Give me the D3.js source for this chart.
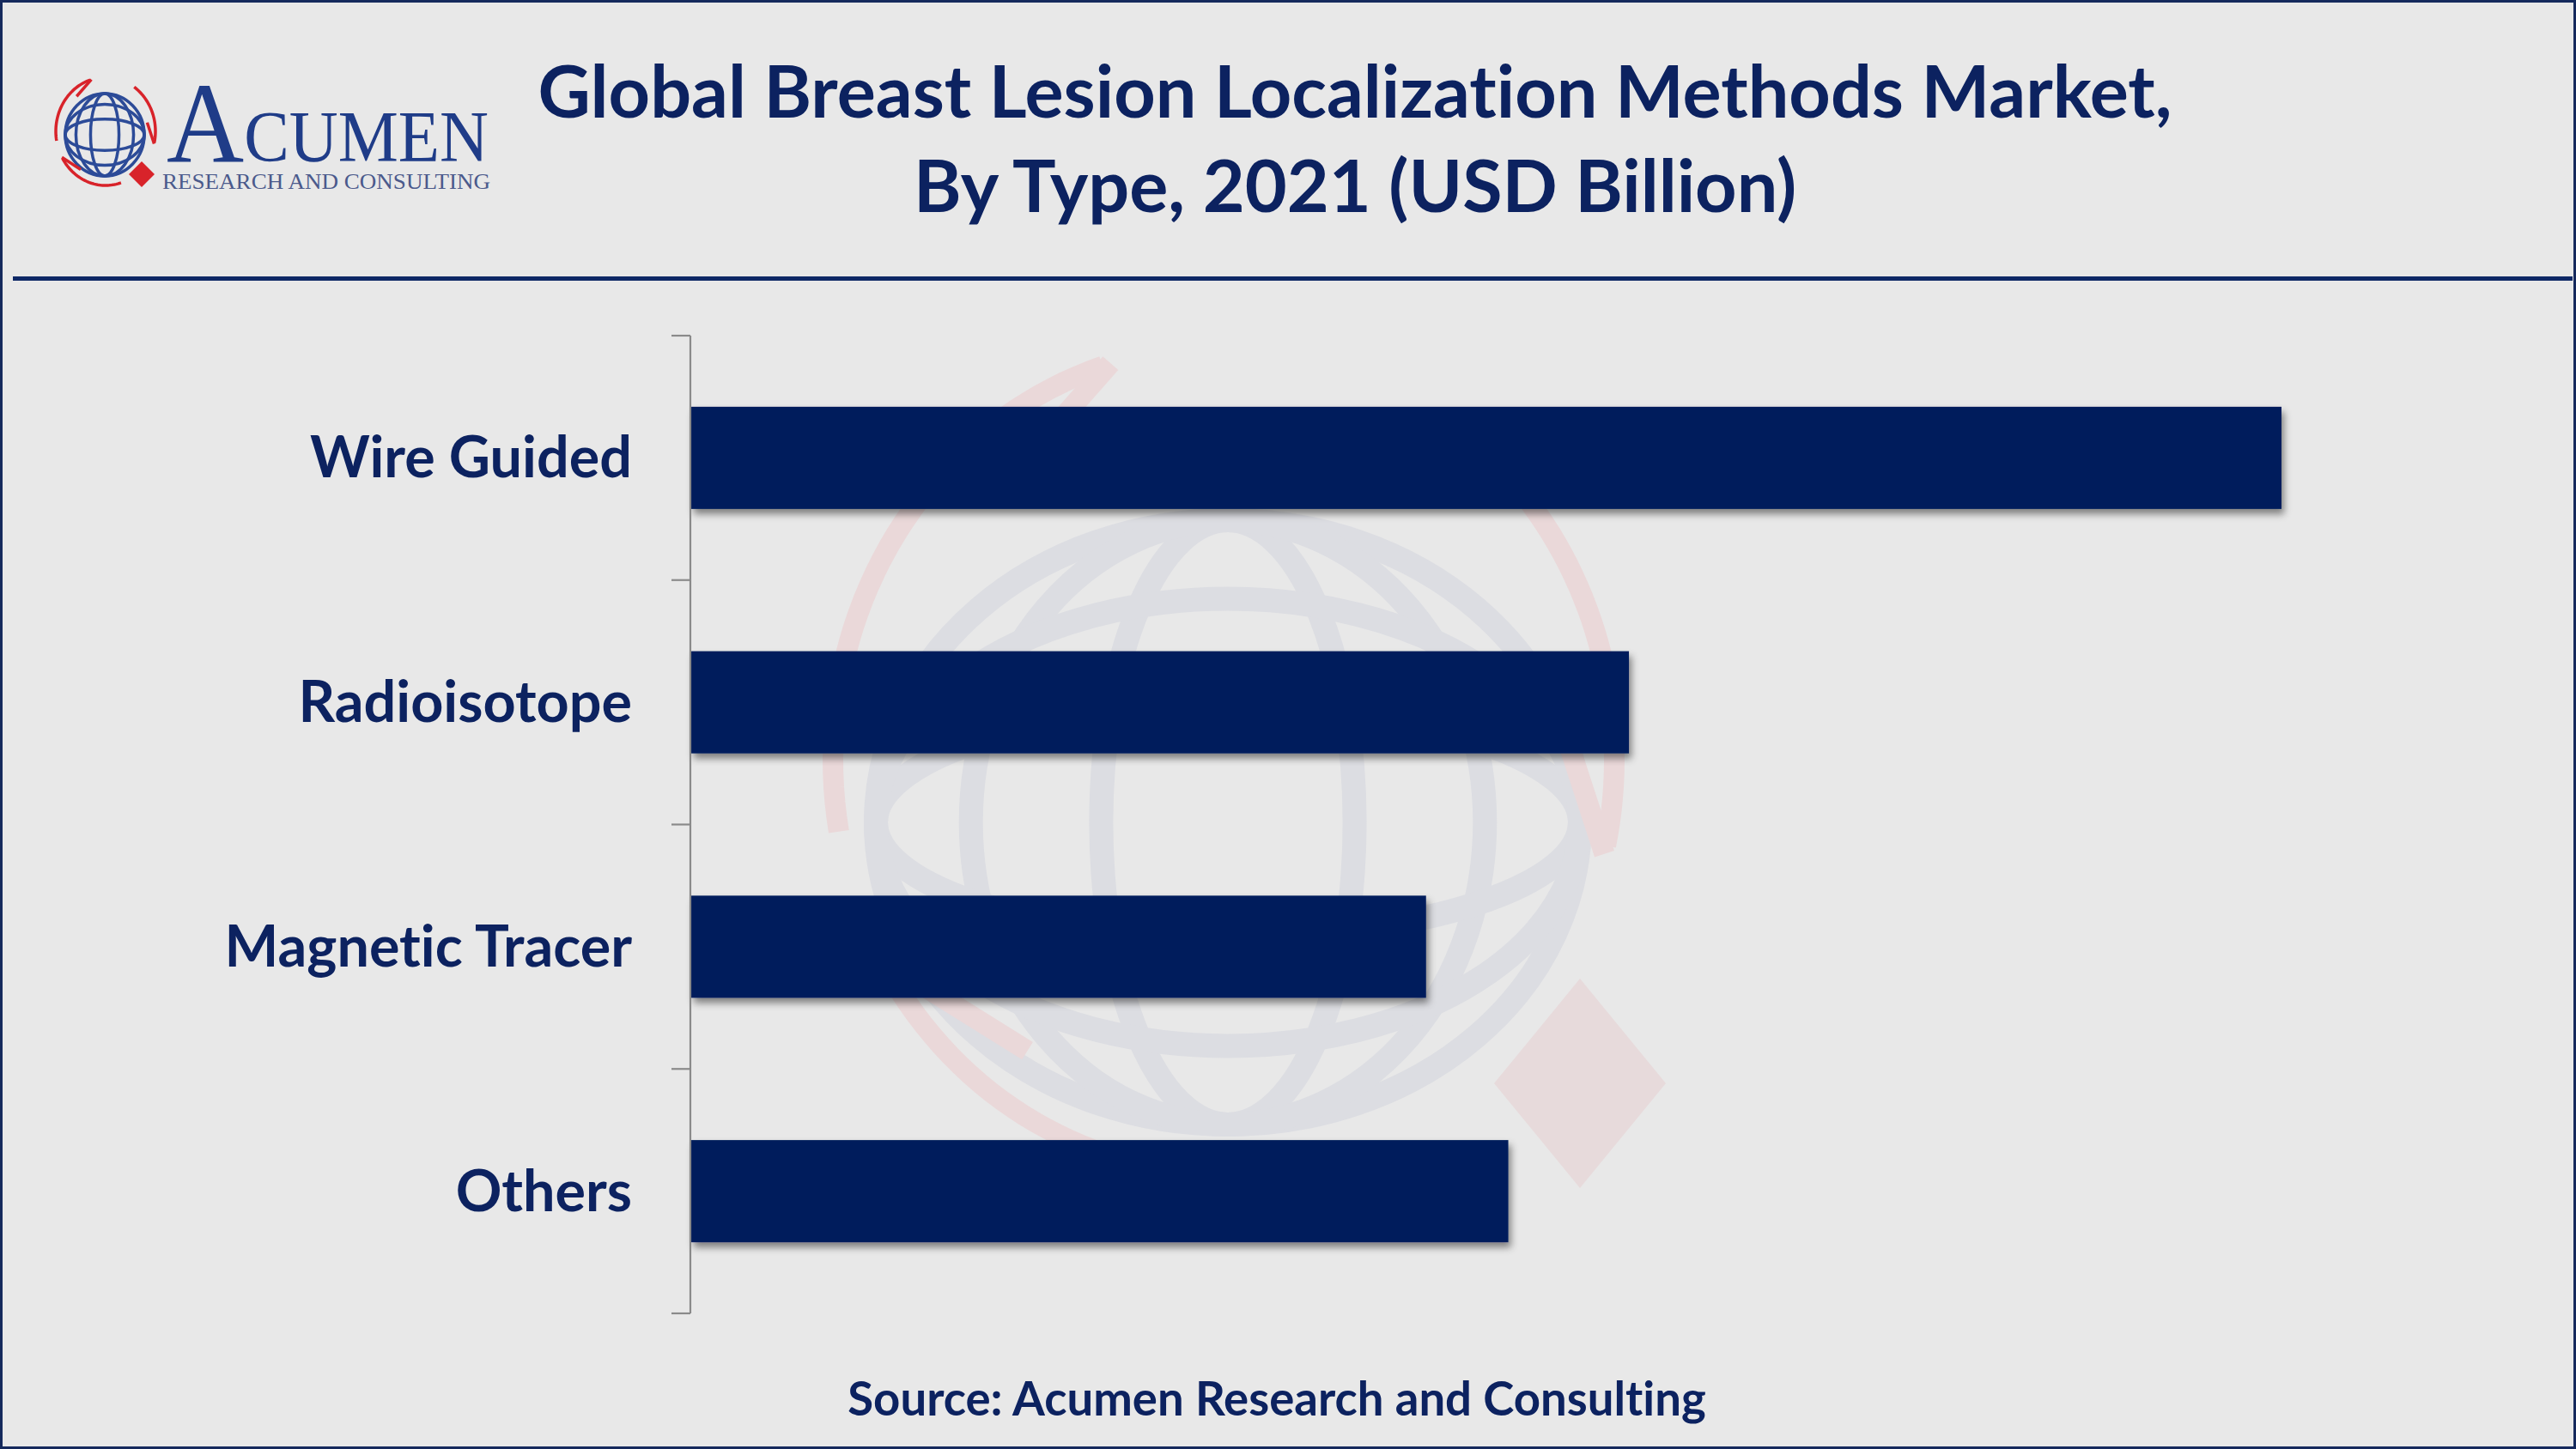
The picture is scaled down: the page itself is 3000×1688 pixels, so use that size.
<!DOCTYPE html>
<html><head><meta charset="utf-8">
<script src="https://cdn.jsdelivr.net/npm/d3@7"></script>
<style>html,body{margin:0;padding:0;background:#e8e8e8;} svg{display:block} text{font-variant-ligatures:none;}</style>
</head><body>
<svg id="chart" width="3000" height="1688"></svg>
<script>
// ---- data ----
const categories = ["Wire Guided", "Radioisotope", "Magnetic Tracer", "Others"];
const values = [0.58, 0.342, 0.268, 0.298];
const titleLines = ["Global Breast Lesion Localization Methods Market,", "By Type, 2021 (USD Billion)"];
const sourceText = "Source: Acumen Research and Consulting";
const logoWord = ["A", "CUMEN"];
const logoTagline = "RESEARCH AND CONSULTING";

// ---- setup ----
const W = 3000, H = 1688;
const svg = d3.select("#chart");
const NAVY = "#0c2260";
const BAR = "#001e5b";

svg.append("rect").attr("width", W).attr("height", H).attr("fill", "#e8e8e8");

const defs = svg.append("defs");
const f = defs.append("filter").attr("id", "shadow").attr("x", "-5%").attr("y", "-20%").attr("width", "115%").attr("height", "160%");
f.append("feDropShadow").attr("dx", 3).attr("dy", 6).attr("stdDeviation", 4)
  .attr("flood-color", "#000").attr("flood-opacity", 0.45);

// ---- logo drawing helper ----
function drawLogo(g, o) {
  const {cx, cy, rx, ry, globe, red, diamond, gw, rw, rcx, rcy, Rx, Ry, dcx, dcy, hw, hh, arcs} = o;
  const lg = g.append("g");
  const gl = lg.append("g").attr("fill", "none").attr("stroke", globe).attr("stroke-width", gw);
  gl.append("ellipse").attr("cx", cx).attr("cy", cy).attr("rx", rx).attr("ry", ry);
  [0.36, 0.73].forEach(k => gl.append("ellipse").attr("cx", cx).attr("cy", cy).attr("rx", rx * k).attr("ry", ry));
  [0.38, 0.74].forEach(k => gl.append("ellipse").attr("cx", cx).attr("cy", cy).attr("rx", rx).attr("ry", ry * k));
  const pt = a => [rcx + Rx * Math.cos(a * Math.PI / 180), rcy - Ry * Math.sin(a * Math.PI / 180)];
  const line = d3.line();
  arcs.forEach(([a0, a1]) => {
    const pts = d3.range(0, 41).map(i => pt(a0 + (a1 - a0) * i / 40));
    lg.append("path").attr("d", line(pts)).attr("fill", "none").attr("stroke", red)
      .attr("stroke-width", rw).attr("stroke-linecap", "butt");
    const tip = pt(a1), prev = pt(a1 + 4);
    const dx = tip[0] - prev[0], dy = tip[1] - prev[1];
    const len = Math.hypot(dx, dy), ux = dx / len, uy = dy / len;
    const s = (Rx + Ry) * 0.18;
    const back = [tip[0] - ux * s, tip[1] - uy * s];
    const nx = -uy, ny = ux;
    const p1 = [back[0] + nx * s * 0.55, back[1] + ny * s * 0.55];
    lg.append("path").attr("d", line([p1, [tip[0] + ux * rw * 0.4, tip[1] + uy * rw * 0.4]]))
      .attr("fill", "none").attr("stroke", red).attr("stroke-width", rw);
  });
  lg.append("path").attr("d", `M${dcx},${dcy - hh}L${dcx + hw},${dcy}L${dcx},${dcy + hh}L${dcx - hw},${dcy}Z`)
    .attr("fill", diamond);
  return lg;
}

// ---- watermark ----
drawLogo(svg.append("g"), {cx: 1430, cy: 958, rx: 410, ry: 352,
  rcx: 1425, rcy: 885, Rx: 455, Ry: 482,
  dcx: 1840, dcy: 1262, hw: 100, hh: 122,
  arcs: [[190, 108], [55, -12], [-72, -150]],
  globe: "#dcdde2", red: "#ead8d9", diamond: "#e7dadb", gw: 28, rw: 24});

// ---- corner logo ----
const logoG = svg.append("g");
drawLogo(logoG, {cx: 122, cy: 157, rx: 46, ry: 48,
  rcx: 123, rcy: 153, Rx: 58, Ry: 63,
  dcx: 165, dcy: 203, hw: 15, hh: 15,
  arcs: [[190, 108], [55, -12], [-72, -150]],
  globe: "#2c4b98", red: "#d8232a", diamond: "#d8232a", gw: 3.5, rw: 3.5});
const lt = logoG.append("text").attr("x", 194).attr("y", 188).attr("font-family", "Liberation Serif, serif")
  .attr("fill", "#1f3c88").attr("textLength", 375).attr("lengthAdjust", "spacingAndGlyphs");
lt.append("tspan").attr("font-size", 133).text(logoWord[0]);
lt.append("tspan").attr("font-size", 84).text(logoWord[1]);
logoG.append("text").attr("x", 189).attr("y", 220).attr("font-family", "Liberation Serif, serif")
  .attr("font-size", 26).attr("fill", "#4b5a8c").attr("textLength", 382).attr("lengthAdjust", "spacingAndGlyphs")
  .text(logoTagline);

// ---- title ----
svg.append("g").selectAll("text").data(titleLines).join("text")
  .attr("x", 1578).attr("y", (d, i) => 137 + i * 110)
  .attr("text-anchor", "middle").attr("font-family", "Lato, sans-serif").attr("font-weight", 700)
  .attr("font-size", 84.5).attr("fill", NAVY).text(d => d);

// header rule
svg.append("line").attr("x1", 15).attr("x2", 2996).attr("y1", 324.5).attr("y2", 324.5)
  .attr("stroke", "#0e2866").attr("stroke-width", 5);

// ---- chart ----
const x = d3.scaleLinear().domain([0, d3.max(values)]).range([805, 2657]);
const y = d3.scaleBand().domain(categories).range([391, 1530]).paddingInner(0.582).paddingOuter(0.291);

const data = categories.map((c, i) => ({c, v: values[i]}));
svg.append("g").selectAll("rect").data(data).join("rect")
  .attr("x", x(0)).attr("y", d => y(d.c)).attr("width", d => x(d.v) - x(0)).attr("height", y.bandwidth())
  .attr("fill", BAR).attr("filter", "url(#shadow)");

const ax = svg.append("g").attr("stroke", "#8a8a8a").attr("stroke-width", 2.2);
ax.append("line").attr("x1", 804).attr("x2", 804).attr("y1", y.range()[0]).attr("y2", y.range()[1]);
d3.range(categories.length + 1).forEach(i => {
  const yy = y.range()[0] + i * y.step();
  ax.append("line").attr("x1", 782).attr("x2", 804).attr("y1", yy).attr("y2", yy);
});

svg.append("g").selectAll("text").data(categories).join("text")
  .attr("x", 736).attr("y", d => y(d) + y.bandwidth() / 2 + 23)
  .attr("text-anchor", "end").attr("font-family", "Lato, sans-serif").attr("font-weight", 700)
  .attr("font-size", 66.5).attr("fill", NAVY).text(d => d);

svg.append("text").attr("x", 1487).attr("y", 1649).attr("text-anchor", "middle")
  .attr("font-family", "Lato, sans-serif").attr("font-weight", 700).attr("font-size", 54.5)
  .attr("fill", NAVY).text(sourceText);

svg.append("rect").attr("x", 1.5).attr("y", 1.5).attr("width", W - 3).attr("height", H - 3)
  .attr("fill", "none").attr("stroke", "#15295c").attr("stroke-width", 3);
</script>
</body></html>
